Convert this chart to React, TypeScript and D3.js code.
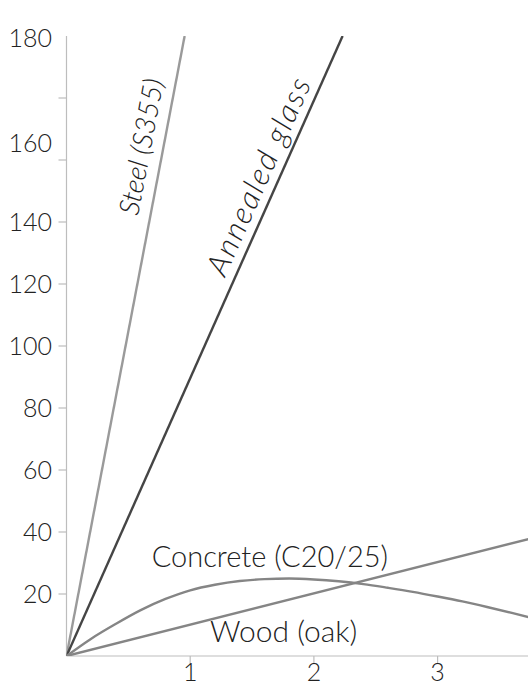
import React from "react";
import * as d3 from "d3";

const W = 528;
const H = 689;

const xTicks = [1, 2, 3];
const yTicks = [20, 40, 60, 80, 100, 120, 140, 160, 180];
const yTickLabels = ["20", "40", "60", "80", "100", "120", "140", "160", "180"];
// where each y label is printed in the reference (value units)
const yLabelAt = [20, 40, 60, 80, 100, 120, 140, 165.5, 199.3];

const steelStrain = [0, 0.955];
const steelStress = [0, 200];
const glassStrain = [0, 2.232];
const glassStress = [0, 200];
const woodStrain = [0, 4];
const woodStress = [0, 40.4];
const concreteStrain = [0, 0.2, 0.4, 0.6, 0.8, 1.0, 1.2, 1.4, 1.6, 1.8, 2.0, 2.2, 2.4, 2.6, 2.8, 3.0, 3.2, 3.4, 3.6, 3.8, 4.0];
const concreteStress = [0, 5.6, 10.4, 14.8, 18.4, 21.2, 23.0, 24.2, 24.8, 25.0, 24.7, 24.1, 23.2, 22.0, 20.7, 19.2, 17.6, 15.8, 13.9, 11.9, 9.9];

const FONT = "Lato, 'Open Sans', sans-serif";

export default function App() {
  const x = d3.scaleLinear().domain([0, 4]).range([66.5, 561.3]);
  const y = d3.scaleLinear().domain([0, 200]).range([656, 36]);

  const toPts = (xs: number[], ys: number[]) => xs.map((v, i) => [v, ys[i]] as [number, number]);
  const straight = d3.line<[number, number]>().x((d) => x(d[0])).y((d) => y(d[1]));
  const smooth = d3
    .line<[number, number]>()
    .x((d) => x(d[0]))
    .y((d) => y(d[1]))
    .curve(d3.curveMonotoneX);

  const series = [
    { name: "Steel (S355)", xs: steelStrain, ys: steelStress, color: "#9a9a9a", gen: straight },
    { name: "Annealed glass", xs: glassStrain, ys: glassStress, color: "#454545", gen: straight },
    { name: "Wood (oak)", xs: woodStrain, ys: woodStress, color: "#858585", gen: straight },
    { name: "Concrete (C20/25)", xs: concreteStrain, ys: concreteStress, color: "#858585", gen: smooth },
  ];

  const angle = (xs: number[], ys: number[]) =>
    (Math.atan2(y(ys[1]) - y(ys[0]), x(xs[1]) - x(xs[0])) * 180) / Math.PI;

  const steelAngle = angle(steelStrain, steelStress);
  const glassAngle = angle(glassStrain, glassStress);
  const steelLabelV = 163;
  const glassLabelV = 152.4;
  const steelPt = [x((steelLabelV / steelStress[1]) * steelStrain[1]), y(steelLabelV)];
  const glassPt = [x((glassLabelV / glassStress[1]) * glassStrain[1]), y(glassLabelV)];

  return (
    <svg
      width={W}
      height={H}
      style={{ position: "absolute", left: 0, top: 0, background: "#fff" }}
      fontFamily={FONT}
      fontWeight={300}
    >
      <defs>
        <clipPath id="plot">
          <rect x={x(0)} y={y(200)} width={W - x(0)} height={y(0) - y(200)} />
        </clipPath>
      </defs>

      {/* axes */}
      <g stroke="#bdbdbd" strokeWidth={1.2}>
        <line x1={x(0)} x2={x(0)} y1={y(0)} y2={y(200)} />
        <line x1={x(0)} x2={W} y1={y(0)} y2={y(0)} />
        {yTicks.map((t) => (
          <line key={"yt" + t} x1={x(0) - 8} x2={x(0)} y1={y(t)} y2={y(t)} />
        ))}
        {xTicks.map((t) => (
          <line key={"xt" + t} x1={x(t)} x2={x(t)} y1={y(0)} y2={y(0) + 8} />
        ))}
      </g>
      <g fill="#222" fontSize={25}>
        {yTickLabels.map((l, i) => (
          <text key={"yl" + l} x={52} y={y(yLabelAt[i])} dy="0.36em" textAnchor="end">
            {l}
          </text>
        ))}
        {xTicks.map((t) => (
          <text key={"xl" + t} x={x(t)} y={681} textAnchor="middle">
            {t}
          </text>
        ))}
      </g>

      {/* lines */}
      <g clipPath="url(#plot)" fill="none" strokeWidth={2.4}>
        {series.map((s) => (
          <path key={s.name} d={s.gen(toPts(s.xs, s.ys)) || ""} stroke={s.color} />
        ))}
      </g>

      {/* labels */}
      <g fill="#222">
        <text
          transform={`translate(${steelPt[0]},${steelPt[1]}) rotate(${steelAngle})`}
          y={-12}
          textAnchor="middle"
          fontStyle="italic"
          fontSize={28}
        >
          Steel (S355)
        </text>
        <text
          transform={`translate(${glassPt[0]},${glassPt[1]}) rotate(${glassAngle})`}
          y={-9}
          textAnchor="middle"
          fontStyle="italic"
          fontSize={31}
          letterSpacing={2}
        >
          Annealed glass
        </text>
        <text x={151.7} y={566.5} fontSize={29}>
          Concrete (C20/25)
        </text>
        <text x={210} y={641.5} fontSize={30}>
          Wood (oak)
        </text>
      </g>
    </svg>
  );
}
